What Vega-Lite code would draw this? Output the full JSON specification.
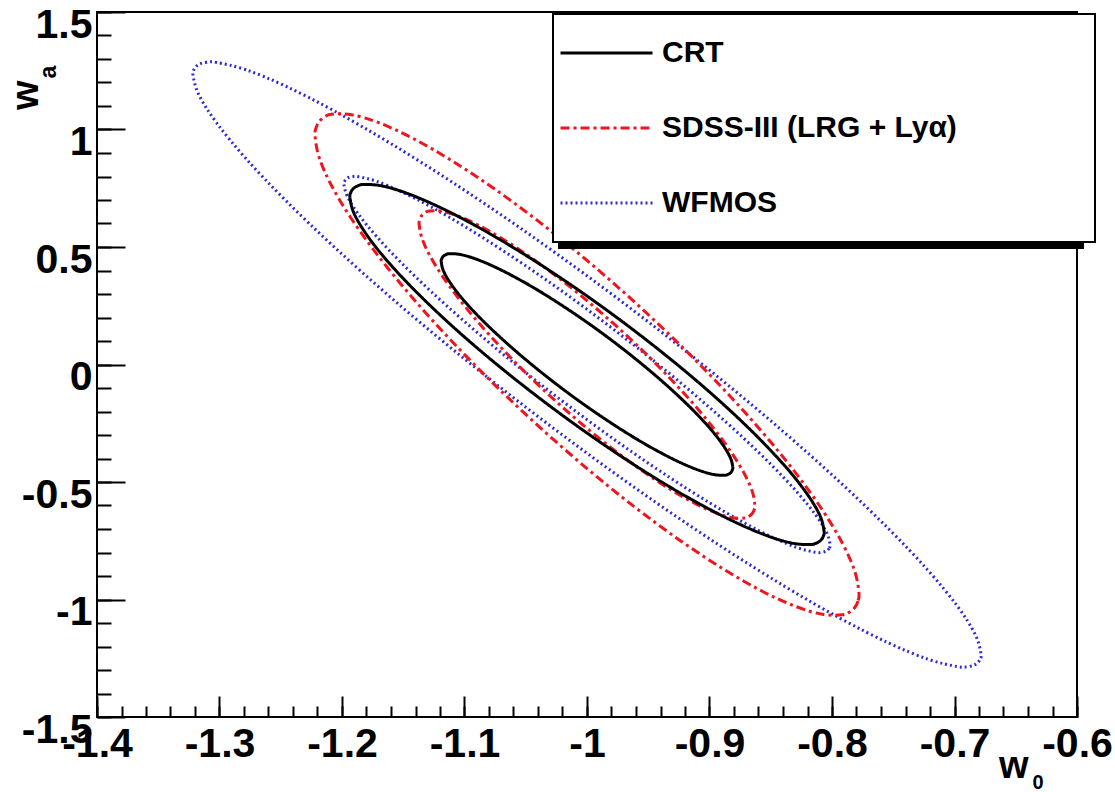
{
  "$schema": "https://vega.github.io/schema/vega-lite/v6.json",
  "width": 980,
  "height": 705,
  "autosize": {"type": "none"},
  "padding": {"left": 97, "top": 12, "right": 38, "bottom": 75},
  "background": "white",
  "config": {
    "view": {"stroke": "black", "strokeWidth": 2},
    "font": "Liberation Sans",
    "legend": {"strokeWidth": 2},
    "axis": {
      "grid": false, "domain": false,
      "labelFont": "Liberation Sans", "labelFontWeight": "bold", "labelFontSize": 41, "labelColor": "black",
      "tickColor": "black", "tickWidth": 2,
      "labelOverlap": false, "labelFlush": false, "labelBound": false,
      "titleFont": "Liberation Sans", "titleFontWeight": "bold", "titleFontSize": 38, "titleColor": "black"
    }
  },
  "datasets": {
    "keys": [{"series": "CRT"}, {"series": "SDSS-III (LRG + Lyα)"}, {"series": "WFMOS"}],
    "contours": [
      {"series":"WFMOS","level":2,"i":0,"w0":-0.6784,"wa":-1.2304},
      {"series":"WFMOS","level":2,"i":1,"w0":-0.6796,"wa":-1.2587},
      {"series":"WFMOS","level":2,"i":2,"w0":-0.6833,"wa":-1.2772},
      {"series":"WFMOS","level":2,"i":3,"w0":-0.6894,"wa":-1.2861},
      {"series":"WFMOS","level":2,"i":4,"w0":-0.6978,"wa":-1.2853},
      {"series":"WFMOS","level":2,"i":5,"w0":-0.7215,"wa":-1.2543},
      {"series":"WFMOS","level":2,"i":6,"w0":-0.7537,"wa":-1.1852},
      {"series":"WFMOS","level":2,"i":7,"w0":-0.7933,"wa":-1.0801},
      {"series":"WFMOS","level":2,"i":8,"w0":-0.8392,"wa":-0.9422},
      {"series":"WFMOS","level":2,"i":9,"w0":-0.89,"wa":-0.7757},
      {"series":"WFMOS","level":2,"i":10,"w0":-0.9442,"wa":-0.5855},
      {"series":"WFMOS","level":2,"i":11,"w0":-1.0,"wa":-0.3776},
      {"series":"WFMOS","level":2,"i":12,"w0":-1.0558,"wa":-0.1582},
      {"series":"WFMOS","level":2,"i":13,"w0":-1.11,"wa":0.066},
      {"series":"WFMOS","level":2,"i":14,"w0":-1.1608,"wa":0.2882},
      {"series":"WFMOS","level":2,"i":15,"w0":-1.2067,"wa":0.5017},
      {"series":"WFMOS","level":2,"i":16,"w0":-1.2463,"wa":0.6997},
      {"series":"WFMOS","level":2,"i":17,"w0":-1.2785,"wa":0.8767},
      {"series":"WFMOS","level":2,"i":18,"w0":-1.3022,"wa":1.0272},
      {"series":"WFMOS","level":2,"i":19,"w0":-1.3167,"wa":1.1462},
      {"series":"WFMOS","level":2,"i":20,"w0":-1.3216,"wa":1.2304},
      {"series":"WFMOS","level":2,"i":21,"w0":-1.3204,"wa":1.2587},
      {"series":"WFMOS","level":2,"i":22,"w0":-1.3167,"wa":1.2772},
      {"series":"WFMOS","level":2,"i":23,"w0":-1.3106,"wa":1.2861},
      {"series":"WFMOS","level":2,"i":24,"w0":-1.3022,"wa":1.2853},
      {"series":"WFMOS","level":2,"i":25,"w0":-1.2785,"wa":1.2543},
      {"series":"WFMOS","level":2,"i":26,"w0":-1.2463,"wa":1.1852},
      {"series":"WFMOS","level":2,"i":27,"w0":-1.2067,"wa":1.0801},
      {"series":"WFMOS","level":2,"i":28,"w0":-1.1608,"wa":0.9422},
      {"series":"WFMOS","level":2,"i":29,"w0":-1.11,"wa":0.7757},
      {"series":"WFMOS","level":2,"i":30,"w0":-1.0558,"wa":0.5855},
      {"series":"WFMOS","level":2,"i":31,"w0":-1.0,"wa":0.3776},
      {"series":"WFMOS","level":2,"i":32,"w0":-0.9442,"wa":0.1582},
      {"series":"WFMOS","level":2,"i":33,"w0":-0.89,"wa":-0.066},
      {"series":"WFMOS","level":2,"i":34,"w0":-0.8392,"wa":-0.2882},
      {"series":"WFMOS","level":2,"i":35,"w0":-0.7933,"wa":-0.5017},
      {"series":"WFMOS","level":2,"i":36,"w0":-0.7537,"wa":-0.6997},
      {"series":"WFMOS","level":2,"i":37,"w0":-0.7215,"wa":-0.8767},
      {"series":"WFMOS","level":2,"i":38,"w0":-0.6978,"wa":-1.0272},
      {"series":"WFMOS","level":2,"i":39,"w0":-0.6833,"wa":-1.1462},

      {"series":"WFMOS","level":1,"i":0,"w0":-0.8016,"wa":-0.7648},
      {"series":"WFMOS","level":1,"i":1,"w0":-0.8024,"wa":-0.7824},
      {"series":"WFMOS","level":1,"i":2,"w0":-0.8046,"wa":-0.7939},
      {"series":"WFMOS","level":1,"i":3,"w0":-0.8084,"wa":-0.7994},
      {"series":"WFMOS","level":1,"i":4,"w0":-0.8136,"wa":-0.799},
      {"series":"WFMOS","level":1,"i":5,"w0":-0.8282,"wa":-0.7797},
      {"series":"WFMOS","level":1,"i":6,"w0":-0.848,"wa":-0.7367},
      {"series":"WFMOS","level":1,"i":7,"w0":-0.8725,"wa":-0.6714},
      {"series":"WFMOS","level":1,"i":8,"w0":-0.9008,"wa":-0.5857},
      {"series":"WFMOS","level":1,"i":9,"w0":-0.9321,"wa":-0.4822},
      {"series":"WFMOS","level":1,"i":10,"w0":-0.9656,"wa":-0.3639},
      {"series":"WFMOS","level":1,"i":11,"w0":-1.0,"wa":-0.2347},
      {"series":"WFMOS","level":1,"i":12,"w0":-1.0344,"wa":-0.0983},
      {"series":"WFMOS","level":1,"i":13,"w0":-1.0679,"wa":0.041},
      {"series":"WFMOS","level":1,"i":14,"w0":-1.0992,"wa":0.1791},
      {"series":"WFMOS","level":1,"i":15,"w0":-1.1275,"wa":0.3118},
      {"series":"WFMOS","level":1,"i":16,"w0":-1.152,"wa":0.435},
      {"series":"WFMOS","level":1,"i":17,"w0":-1.1718,"wa":0.545},
      {"series":"WFMOS","level":1,"i":18,"w0":-1.1864,"wa":0.6385},
      {"series":"WFMOS","level":1,"i":19,"w0":-1.1954,"wa":0.7125},
      {"series":"WFMOS","level":1,"i":20,"w0":-1.1984,"wa":0.7648},
      {"series":"WFMOS","level":1,"i":21,"w0":-1.1976,"wa":0.7824},
      {"series":"WFMOS","level":1,"i":22,"w0":-1.1954,"wa":0.7939},
      {"series":"WFMOS","level":1,"i":23,"w0":-1.1916,"wa":0.7994},
      {"series":"WFMOS","level":1,"i":24,"w0":-1.1864,"wa":0.799},
      {"series":"WFMOS","level":1,"i":25,"w0":-1.1718,"wa":0.7797},
      {"series":"WFMOS","level":1,"i":26,"w0":-1.152,"wa":0.7367},
      {"series":"WFMOS","level":1,"i":27,"w0":-1.1275,"wa":0.6714},
      {"series":"WFMOS","level":1,"i":28,"w0":-1.0992,"wa":0.5857},
      {"series":"WFMOS","level":1,"i":29,"w0":-1.0679,"wa":0.4822},
      {"series":"WFMOS","level":1,"i":30,"w0":-1.0344,"wa":0.3639},
      {"series":"WFMOS","level":1,"i":31,"w0":-1.0,"wa":0.2347},
      {"series":"WFMOS","level":1,"i":32,"w0":-0.9656,"wa":0.0983},
      {"series":"WFMOS","level":1,"i":33,"w0":-0.9321,"wa":-0.041},
      {"series":"WFMOS","level":1,"i":34,"w0":-0.9008,"wa":-0.1791},
      {"series":"WFMOS","level":1,"i":35,"w0":-0.8725,"wa":-0.3118},
      {"series":"WFMOS","level":1,"i":36,"w0":-0.848,"wa":-0.435},
      {"series":"WFMOS","level":1,"i":37,"w0":-0.8282,"wa":-0.545},
      {"series":"WFMOS","level":1,"i":38,"w0":-0.8136,"wa":-0.6385},
      {"series":"WFMOS","level":1,"i":39,"w0":-0.8046,"wa":-0.7125},

      {"series":"SDSS-III (LRG + Lyα)","level":2,"i":0,"w0":-0.778,"wa":-0.9719},
      {"series":"SDSS-III (LRG + Lyα)","level":2,"i":1,"w0":-0.7788,"wa":-1.0068},
      {"series":"SDSS-III (LRG + Lyα)","level":2,"i":2,"w0":-0.7814,"wa":-1.034},
      {"series":"SDSS-III (LRG + Lyα)","level":2,"i":3,"w0":-0.7856,"wa":-1.0534},
      {"series":"SDSS-III (LRG + Lyα)","level":2,"i":4,"w0":-0.7914,"wa":-1.0647},
      {"series":"SDSS-III (LRG + Lyα)","level":2,"i":5,"w0":-0.8077,"wa":-1.0631},
      {"series":"SDSS-III (LRG + Lyα)","level":2,"i":6,"w0":-0.8299,"wa":-1.0291},
      {"series":"SDSS-III (LRG + Lyα)","level":2,"i":7,"w0":-0.8573,"wa":-0.9639},
      {"series":"SDSS-III (LRG + Lyα)","level":2,"i":8,"w0":-0.889,"wa":-0.8694},
      {"series":"SDSS-III (LRG + Lyα)","level":2,"i":9,"w0":-0.9241,"wa":-0.7485},
      {"series":"SDSS-III (LRG + Lyα)","level":2,"i":10,"w0":-0.9615,"wa":-0.6048},
      {"series":"SDSS-III (LRG + Lyα)","level":2,"i":11,"w0":-1.0,"wa":-0.4428},
      {"series":"SDSS-III (LRG + Lyα)","level":2,"i":12,"w0":-1.0385,"wa":-0.2673},
      {"series":"SDSS-III (LRG + Lyα)","level":2,"i":13,"w0":-1.0759,"wa":-0.0837},
      {"series":"SDSS-III (LRG + Lyα)","level":2,"i":14,"w0":-1.111,"wa":0.1025},
      {"series":"SDSS-III (LRG + Lyα)","level":2,"i":15,"w0":-1.1427,"wa":0.2855},
      {"series":"SDSS-III (LRG + Lyα)","level":2,"i":16,"w0":-1.1701,"wa":0.4599},
      {"series":"SDSS-III (LRG + Lyα)","level":2,"i":17,"w0":-1.1923,"wa":0.6203},
      {"series":"SDSS-III (LRG + Lyα)","level":2,"i":18,"w0":-1.2086,"wa":0.7618},
      {"series":"SDSS-III (LRG + Lyα)","level":2,"i":19,"w0":-1.2186,"wa":0.8802},
      {"series":"SDSS-III (LRG + Lyα)","level":2,"i":20,"w0":-1.222,"wa":0.9719},
      {"series":"SDSS-III (LRG + Lyα)","level":2,"i":21,"w0":-1.2212,"wa":1.0068},
      {"series":"SDSS-III (LRG + Lyα)","level":2,"i":22,"w0":-1.2186,"wa":1.034},
      {"series":"SDSS-III (LRG + Lyα)","level":2,"i":23,"w0":-1.2144,"wa":1.0534},
      {"series":"SDSS-III (LRG + Lyα)","level":2,"i":24,"w0":-1.2086,"wa":1.0647},
      {"series":"SDSS-III (LRG + Lyα)","level":2,"i":25,"w0":-1.1923,"wa":1.0631},
      {"series":"SDSS-III (LRG + Lyα)","level":2,"i":26,"w0":-1.1701,"wa":1.0291},
      {"series":"SDSS-III (LRG + Lyα)","level":2,"i":27,"w0":-1.1427,"wa":0.9639},
      {"series":"SDSS-III (LRG + Lyα)","level":2,"i":28,"w0":-1.111,"wa":0.8694},
      {"series":"SDSS-III (LRG + Lyα)","level":2,"i":29,"w0":-1.0759,"wa":0.7485},
      {"series":"SDSS-III (LRG + Lyα)","level":2,"i":30,"w0":-1.0385,"wa":0.6048},
      {"series":"SDSS-III (LRG + Lyα)","level":2,"i":31,"w0":-1.0,"wa":0.4428},
      {"series":"SDSS-III (LRG + Lyα)","level":2,"i":32,"w0":-0.9615,"wa":0.2673},
      {"series":"SDSS-III (LRG + Lyα)","level":2,"i":33,"w0":-0.9241,"wa":0.0837},
      {"series":"SDSS-III (LRG + Lyα)","level":2,"i":34,"w0":-0.889,"wa":-0.1025},
      {"series":"SDSS-III (LRG + Lyα)","level":2,"i":35,"w0":-0.8573,"wa":-0.2855},
      {"series":"SDSS-III (LRG + Lyα)","level":2,"i":36,"w0":-0.8299,"wa":-0.4599},
      {"series":"SDSS-III (LRG + Lyα)","level":2,"i":37,"w0":-0.8077,"wa":-0.6203},
      {"series":"SDSS-III (LRG + Lyα)","level":2,"i":38,"w0":-0.7914,"wa":-0.7618},
      {"series":"SDSS-III (LRG + Lyα)","level":2,"i":39,"w0":-0.7814,"wa":-0.8802},

      {"series":"SDSS-III (LRG + Lyα)","level":1,"i":0,"w0":-0.863,"wa":-0.5961},
      {"series":"SDSS-III (LRG + Lyα)","level":1,"i":1,"w0":-0.8635,"wa":-0.6175},
      {"series":"SDSS-III (LRG + Lyα)","level":1,"i":2,"w0":-0.8651,"wa":-0.6342},
      {"series":"SDSS-III (LRG + Lyα)","level":1,"i":3,"w0":-0.8677,"wa":-0.646},
      {"series":"SDSS-III (LRG + Lyα)","level":1,"i":4,"w0":-0.8713,"wa":-0.653},
      {"series":"SDSS-III (LRG + Lyα)","level":1,"i":5,"w0":-0.8814,"wa":-0.652},
      {"series":"SDSS-III (LRG + Lyα)","level":1,"i":6,"w0":-0.8951,"wa":-0.6312},
      {"series":"SDSS-III (LRG + Lyα)","level":1,"i":7,"w0":-0.9119,"wa":-0.5911},
      {"series":"SDSS-III (LRG + Lyα)","level":1,"i":8,"w0":-0.9315,"wa":-0.5332},
      {"series":"SDSS-III (LRG + Lyα)","level":1,"i":9,"w0":-0.9531,"wa":-0.459},
      {"series":"SDSS-III (LRG + Lyα)","level":1,"i":10,"w0":-0.9762,"wa":-0.3709},
      {"series":"SDSS-III (LRG + Lyα)","level":1,"i":11,"w0":-1.0,"wa":-0.2716},
      {"series":"SDSS-III (LRG + Lyα)","level":1,"i":12,"w0":-1.0238,"wa":-0.1639},
      {"series":"SDSS-III (LRG + Lyα)","level":1,"i":13,"w0":-1.0469,"wa":-0.0514},
      {"series":"SDSS-III (LRG + Lyα)","level":1,"i":14,"w0":-1.0685,"wa":0.0629},
      {"series":"SDSS-III (LRG + Lyα)","level":1,"i":15,"w0":-1.0881,"wa":0.1751},
      {"series":"SDSS-III (LRG + Lyα)","level":1,"i":16,"w0":-1.1049,"wa":0.282},
      {"series":"SDSS-III (LRG + Lyα)","level":1,"i":17,"w0":-1.1186,"wa":0.3804},
      {"series":"SDSS-III (LRG + Lyα)","level":1,"i":18,"w0":-1.1287,"wa":0.4672},
      {"series":"SDSS-III (LRG + Lyα)","level":1,"i":19,"w0":-1.1349,"wa":0.5399},
      {"series":"SDSS-III (LRG + Lyα)","level":1,"i":20,"w0":-1.137,"wa":0.5961},
      {"series":"SDSS-III (LRG + Lyα)","level":1,"i":21,"w0":-1.1365,"wa":0.6175},
      {"series":"SDSS-III (LRG + Lyα)","level":1,"i":22,"w0":-1.1349,"wa":0.6342},
      {"series":"SDSS-III (LRG + Lyα)","level":1,"i":23,"w0":-1.1323,"wa":0.646},
      {"series":"SDSS-III (LRG + Lyα)","level":1,"i":24,"w0":-1.1287,"wa":0.653},
      {"series":"SDSS-III (LRG + Lyα)","level":1,"i":25,"w0":-1.1186,"wa":0.652},
      {"series":"SDSS-III (LRG + Lyα)","level":1,"i":26,"w0":-1.1049,"wa":0.6312},
      {"series":"SDSS-III (LRG + Lyα)","level":1,"i":27,"w0":-1.0881,"wa":0.5911},
      {"series":"SDSS-III (LRG + Lyα)","level":1,"i":28,"w0":-1.0685,"wa":0.5332},
      {"series":"SDSS-III (LRG + Lyα)","level":1,"i":29,"w0":-1.0469,"wa":0.459},
      {"series":"SDSS-III (LRG + Lyα)","level":1,"i":30,"w0":-1.0238,"wa":0.3709},
      {"series":"SDSS-III (LRG + Lyα)","level":1,"i":31,"w0":-1.0,"wa":0.2716},
      {"series":"SDSS-III (LRG + Lyα)","level":1,"i":32,"w0":-0.9762,"wa":0.1639},
      {"series":"SDSS-III (LRG + Lyα)","level":1,"i":33,"w0":-0.9531,"wa":0.0514},
      {"series":"SDSS-III (LRG + Lyα)","level":1,"i":34,"w0":-0.9315,"wa":-0.0629},
      {"series":"SDSS-III (LRG + Lyα)","level":1,"i":35,"w0":-0.9119,"wa":-0.1751},
      {"series":"SDSS-III (LRG + Lyα)","level":1,"i":36,"w0":-0.8951,"wa":-0.282},
      {"series":"SDSS-III (LRG + Lyα)","level":1,"i":37,"w0":-0.8814,"wa":-0.3804},
      {"series":"SDSS-III (LRG + Lyα)","level":1,"i":38,"w0":-0.8713,"wa":-0.4672},
      {"series":"SDSS-III (LRG + Lyα)","level":1,"i":39,"w0":-0.8651,"wa":-0.5399},

      {"series":"CRT","level":2,"i":0,"w0":-0.8065,"wa":-0.7095},
      {"series":"CRT","level":2,"i":1,"w0":-0.8072,"wa":-0.7322},
      {"series":"CRT","level":2,"i":2,"w0":-0.8094,"wa":-0.7493},
      {"series":"CRT","level":2,"i":3,"w0":-0.8131,"wa":-0.7607},
      {"series":"CRT","level":2,"i":4,"w0":-0.8182,"wa":-0.7664},
      {"series":"CRT","level":2,"i":5,"w0":-0.8324,"wa":-0.7602},
      {"series":"CRT","level":2,"i":6,"w0":-0.8518,"wa":-0.7309},
      {"series":"CRT","level":2,"i":7,"w0":-0.8756,"wa":-0.6793},
      {"series":"CRT","level":2,"i":8,"w0":-0.9032,"wa":-0.6072},
      {"series":"CRT","level":2,"i":9,"w0":-0.9338,"wa":-0.5166},
      {"series":"CRT","level":2,"i":10,"w0":-0.9664,"wa":-0.4102},
      {"series":"CRT","level":2,"i":11,"w0":-1.0,"wa":-0.2915},
      {"series":"CRT","level":2,"i":12,"w0":-1.0336,"wa":-0.1638},
      {"series":"CRT","level":2,"i":13,"w0":-1.0662,"wa":-0.0312},
      {"series":"CRT","level":2,"i":14,"w0":-1.0968,"wa":0.1023},
      {"series":"CRT","level":2,"i":15,"w0":-1.1244,"wa":0.2328},
      {"series":"CRT","level":2,"i":16,"w0":-1.1482,"wa":0.3561},
      {"series":"CRT","level":2,"i":17,"w0":-1.1676,"wa":0.4687},
      {"series":"CRT","level":2,"i":18,"w0":-1.1818,"wa":0.567},
      {"series":"CRT","level":2,"i":19,"w0":-1.1906,"wa":0.648},
      {"series":"CRT","level":2,"i":20,"w0":-1.1935,"wa":0.7095},
      {"series":"CRT","level":2,"i":21,"w0":-1.1928,"wa":0.7322},
      {"series":"CRT","level":2,"i":22,"w0":-1.1906,"wa":0.7493},
      {"series":"CRT","level":2,"i":23,"w0":-1.1869,"wa":0.7607},
      {"series":"CRT","level":2,"i":24,"w0":-1.1818,"wa":0.7664},
      {"series":"CRT","level":2,"i":25,"w0":-1.1676,"wa":0.7602},
      {"series":"CRT","level":2,"i":26,"w0":-1.1482,"wa":0.7309},
      {"series":"CRT","level":2,"i":27,"w0":-1.1244,"wa":0.6793},
      {"series":"CRT","level":2,"i":28,"w0":-1.0968,"wa":0.6072},
      {"series":"CRT","level":2,"i":29,"w0":-1.0662,"wa":0.5166},
      {"series":"CRT","level":2,"i":30,"w0":-1.0336,"wa":0.4102},
      {"series":"CRT","level":2,"i":31,"w0":-1.0,"wa":0.2915},
      {"series":"CRT","level":2,"i":32,"w0":-0.9664,"wa":0.1638},
      {"series":"CRT","level":2,"i":33,"w0":-0.9338,"wa":0.0312},
      {"series":"CRT","level":2,"i":34,"w0":-0.9032,"wa":-0.1023},
      {"series":"CRT","level":2,"i":35,"w0":-0.8756,"wa":-0.2328},
      {"series":"CRT","level":2,"i":36,"w0":-0.8518,"wa":-0.3561},
      {"series":"CRT","level":2,"i":37,"w0":-0.8324,"wa":-0.4687},
      {"series":"CRT","level":2,"i":38,"w0":-0.8182,"wa":-0.567},
      {"series":"CRT","level":2,"i":39,"w0":-0.8094,"wa":-0.648},

      {"series":"CRT","level":1,"i":0,"w0":-0.881,"wa":-0.4366},
      {"series":"CRT","level":1,"i":1,"w0":-0.8815,"wa":-0.4506},
      {"series":"CRT","level":1,"i":2,"w0":-0.8828,"wa":-0.4611},
      {"series":"CRT","level":1,"i":3,"w0":-0.8851,"wa":-0.4681},
      {"series":"CRT","level":1,"i":4,"w0":-0.8882,"wa":-0.4716},
      {"series":"CRT","level":1,"i":5,"w0":-0.8969,"wa":-0.4678},
      {"series":"CRT","level":1,"i":6,"w0":-0.9088,"wa":-0.4498},
      {"series":"CRT","level":1,"i":7,"w0":-0.9235,"wa":-0.4181},
      {"series":"CRT","level":1,"i":8,"w0":-0.9405,"wa":-0.3736},
      {"series":"CRT","level":1,"i":9,"w0":-0.9593,"wa":-0.3179},
      {"series":"CRT","level":1,"i":10,"w0":-0.9793,"wa":-0.2524},
      {"series":"CRT","level":1,"i":11,"w0":-1.0,"wa":-0.1794},
      {"series":"CRT","level":1,"i":12,"w0":-1.0207,"wa":-0.1008},
      {"series":"CRT","level":1,"i":13,"w0":-1.0407,"wa":-0.0192},
      {"series":"CRT","level":1,"i":14,"w0":-1.0595,"wa":0.063},
      {"series":"CRT","level":1,"i":15,"w0":-1.0765,"wa":0.1433},
      {"series":"CRT","level":1,"i":16,"w0":-1.0912,"wa":0.2191},
      {"series":"CRT","level":1,"i":17,"w0":-1.1031,"wa":0.2884},
      {"series":"CRT","level":1,"i":18,"w0":-1.1118,"wa":0.3489},
      {"series":"CRT","level":1,"i":19,"w0":-1.1172,"wa":0.3988},
      {"series":"CRT","level":1,"i":20,"w0":-1.119,"wa":0.4366},
      {"series":"CRT","level":1,"i":21,"w0":-1.1185,"wa":0.4506},
      {"series":"CRT","level":1,"i":22,"w0":-1.1172,"wa":0.4611},
      {"series":"CRT","level":1,"i":23,"w0":-1.1149,"wa":0.4681},
      {"series":"CRT","level":1,"i":24,"w0":-1.1118,"wa":0.4716},
      {"series":"CRT","level":1,"i":25,"w0":-1.1031,"wa":0.4678},
      {"series":"CRT","level":1,"i":26,"w0":-1.0912,"wa":0.4498},
      {"series":"CRT","level":1,"i":27,"w0":-1.0765,"wa":0.4181},
      {"series":"CRT","level":1,"i":28,"w0":-1.0595,"wa":0.3736},
      {"series":"CRT","level":1,"i":29,"w0":-1.0407,"wa":0.3179},
      {"series":"CRT","level":1,"i":30,"w0":-1.0207,"wa":0.2524},
      {"series":"CRT","level":1,"i":31,"w0":-1.0,"wa":0.1794},
      {"series":"CRT","level":1,"i":32,"w0":-0.9793,"wa":0.1008},
      {"series":"CRT","level":1,"i":33,"w0":-0.9593,"wa":0.0192},
      {"series":"CRT","level":1,"i":34,"w0":-0.9405,"wa":-0.063},
      {"series":"CRT","level":1,"i":35,"w0":-0.9235,"wa":-0.1433},
      {"series":"CRT","level":1,"i":36,"w0":-0.9088,"wa":-0.2191},
      {"series":"CRT","level":1,"i":37,"w0":-0.8969,"wa":-0.2884},
      {"series":"CRT","level":1,"i":38,"w0":-0.8882,"wa":-0.3489},
      {"series":"CRT","level":1,"i":39,"w0":-0.8828,"wa":-0.3988}
    ]
  },
  "layer": [
    {
      "data": {"name": "contours"},
      "mark": {"type": "line", "interpolate": "cardinal-closed", "strokeWidth": 3},
      "encoding": {
        "x": {
          "field": "w0", "type": "quantitative",
          "scale": {"domain": [-1.4, -0.6], "nice": false, "zero": false},
          "axis": {
            "orient": "bottom",
            "values": [-1.4, -1.3, -1.2, -1.1, -1.0, -0.9, -0.8, -0.7, -0.6],
            "labelExpr": "'' + datum.value",
            "tickSize": -21, "labelPadding": 28, "labelBaseline": "top", "labelAlign": "center",
            "title": "w", "titleX": 931, "titleY": 60, "titleAlign": "right", "titleBaseline": "alphabetic", "titleAngle": 0
          }
        },
        "y": {
          "field": "wa", "type": "quantitative",
          "scale": {"domain": [-1.5, 1.5], "nice": false, "zero": false},
          "axis": {
            "orient": "left",
            "values": [-1.5, -1.0, -0.5, 0, 0.5, 1.0, 1.5],
            "labelExpr": "'' + datum.value",
            "tickSize": -28, "labelPadding": 33, "labelOffset": 13, "labelBaseline": "middle", "labelAlign": "right",
            "title": "w", "titleX": -60, "titleY": 68, "titleAlign": "right", "titleBaseline": "alphabetic", "titleAngle": -90
          }
        },
        "color": {
          "field": "series", "type": "nominal",
          "scale": {"domain": ["CRT", "SDSS-III (LRG + Lyα)", "WFMOS"], "range": ["#000000", "#f0141e", "#2b2bd9"]},
          "legend": {
            "orient": "none", "legendX": 456, "legendY": 2, "title": null, "direction": "vertical",
            "fillColor": "white", "strokeColor": "black", "padding": 6,
            "symbolType": "stroke", "symbolSize": 8464, "symbolStrokeWidth": 3, "clipHeight": 66, "rowPadding": 9,
            "labelFont": "Liberation Sans", "labelFontSize": 30, "labelFontWeight": "bold", "labelColor": "black",
            "labelOffset": 8, "labelLimit": 1000, "labelExpr": "datum.label + '\u2800\u2800\u2800\u2800\u2800\u2800'", "zindex": 1
          }
        },
        "strokeDash": {
          "field": "series", "type": "nominal",
          "scale": {"domain": ["CRT", "SDSS-III (LRG + Lyα)", "WFMOS"], "range": [[1, 0], [9, 4, 3, 4], [2, 3]]},
          "legend": {"orient": "none", "legendX": 456, "legendY": 2, "title": null}
        },
        "detail": {"field": "level", "type": "nominal"},
        "order": {"field": "i", "type": "quantitative"}
      }
    },
    {
      "data": {"name": "contours"},
      "mark": {"type": "point", "opacity": 0},
      "encoding": {
        "x": {
          "field": "w0", "type": "quantitative",
          "scale": {"domain": [-1.4, -0.6], "nice": false, "zero": false},
          "axis": {
            "orient": "bottom", "labels": false, "tickSize": -11,
            "values": [-1.4,-1.38,-1.36,-1.34,-1.32,-1.3,-1.28,-1.26,-1.24,-1.22,-1.2,-1.18,-1.16,-1.14,-1.12,-1.1,-1.08,-1.06,-1.04,-1.02,-1,-0.98,-0.96,-0.94,-0.92,-0.9,-0.88,-0.86,-0.84,-0.82,-0.8,-0.78,-0.76,-0.74,-0.72,-0.7,-0.68,-0.66,-0.64,-0.62,-0.6],
            "title": "0", "titleFontSize": 20, "titleX": 935, "titleY": 71, "titleAlign": "left", "titleBaseline": "alphabetic", "titleAngle": 0
          }
        },
        "y": {
          "field": "wa", "type": "quantitative",
          "scale": {"domain": [-1.5, 1.5], "nice": false, "zero": false},
          "axis": {
            "orient": "left", "labels": false, "tickSize": -14,
            "values": [-1.5,-1.4,-1.3,-1.2,-1.1,-1,-0.9,-0.8,-0.7,-0.6,-0.5,-0.4,-0.3,-0.2,-0.1,0,0.1,0.2,0.3,0.4,0.5,0.6,0.7,0.8,0.9,1,1.1,1.2,1.3,1.4,1.5],
            "title": "a", "titleFontSize": 23, "titleX": -42, "titleY": 66, "titleAlign": "left", "titleBaseline": "alphabetic", "titleAngle": -90
          }
        }
      }
    },
    {
      "data": {"name": "keys"},
      "mark": {"type": "point", "opacity": 0},
      "encoding": {
        "shape": {
          "field": "series", "type": "nominal",
          "legend": {
            "orient": "none", "legendX": 462, "legendY": 8, "title": null, "direction": "vertical",
            "fillColor": "black", "strokeColor": "black", "padding": 6,
            "symbolSize": 260100, "symbolOpacity": 0, "clipHeight": 66, "rowPadding": 9,
            "labelFontSize": 30, "labelOpacity": 0, "labelOffset": 0, "labelExpr": "''", "zindex": 0
          }
        }
      }
    }
  ],
  "resolve": {"axis": {"x": "independent", "y": "independent"}}
}
